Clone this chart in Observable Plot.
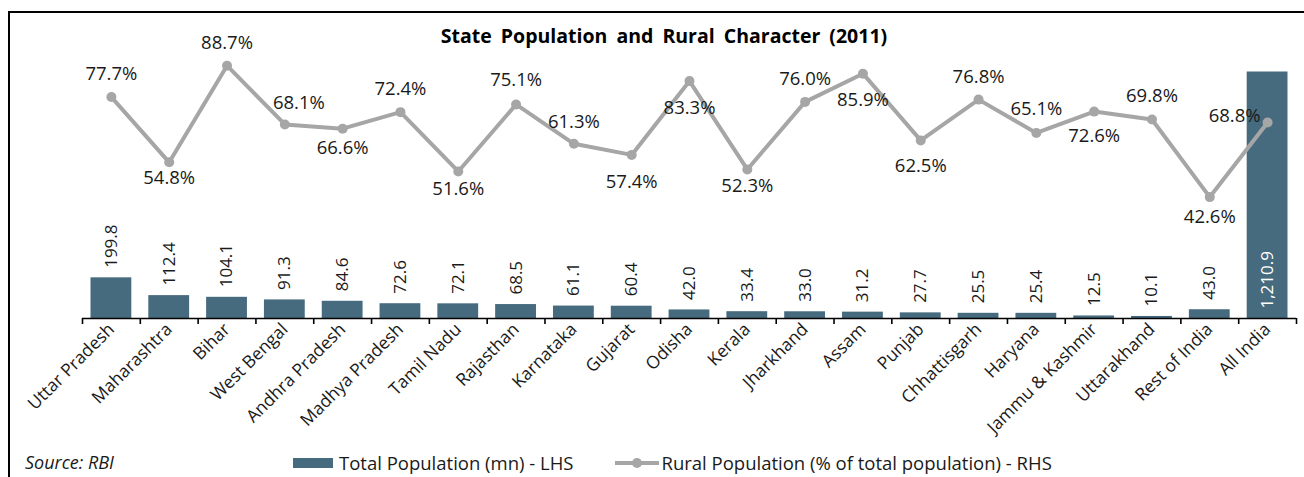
<!DOCTYPE html>
<html>
<head>
<meta charset="utf-8">
<script src="https://cdn.jsdelivr.net/npm/d3@7"></script>
<script src="https://cdn.jsdelivr.net/npm/@observablehq/plot@0.6"></script>
<style>
  body { margin: 0; background: #fff; font-family: "Open Sans", sans-serif; }
  #wrap { position: relative; width: 1304px; height: 477px; overflow: hidden; background: #fff; }
  #frame { position: absolute; left: 8px; top: 11px; width: 1400px; height: 600px;
           border-left: 2px solid #000; border-top: 2px solid #000; }
  #title { position: absolute; top: 22px; left: 0; width: 1328px; text-align: center;
           font-weight: bold; font-size: 19.5px; color: #000; word-spacing: 4px; }
  #chart { position: absolute; left: 0; top: 0; }
  #source { position: absolute; left: 25px; top: 450px; font-style: italic; font-size: 18px; color: #1a1a1a; }
  #legend { position: absolute; top: 450px; left: 293px; display: flex; align-items: center;
            font-size: 18.5px; color: #1a1a1a; white-space: nowrap; }
  .item { display: flex; align-items: center; }
  .swbar { width: 40px; height: 10px; background: #466a7e; margin-right: 6px; }
  .swline { margin-right: 2px; }
</style>
</head>
<body>
<div id="wrap">
  <div id="frame"></div>
  <div id="chart"></div>
  <div id="title"></div>
  <div id="source"></div>
  <div id="legend"></div>
</div>
<script>
const titleText = "State Population and Rural Character (2011)";
const sourceText = "Source: RBI";
const seriesNames = ["Total Population (mn) - LHS", "Rural Population (% of total population) - RHS"];

const categories = ["Uttar Pradesh","Maharashtra","Bihar","West Bengal","Andhra Pradesh","Madhya Pradesh",
  "Tamil Nadu","Rajasthan","Karnataka","Gujarat","Odisha","Kerala","Jharkhand","Assam","Punjab",
  "Chhattisgarh","Haryana","Jammu & Kashmir","Uttarakhand","Rest of India","All India"];
const population = [199.8,112.4,104.1,91.3,84.6,72.6,72.1,68.5,61.1,60.4,42.0,33.4,33.0,31.2,27.7,25.5,25.4,12.5,10.1,43.0,1210.9];
const rural = [77.7,54.8,88.7,68.1,66.6,72.4,51.6,75.1,61.3,57.4,83.3,52.3,76.0,85.9,62.5,76.8,65.1,72.6,69.8,42.6,68.8];

// axis domains (LHS population, RHS percent)
const popMax = 1400, pctMax = 100;

// layout / style
const barColor = "#466a7e", lineColor = "#a6a6a6", textColor = "#1a1a1a";
const W = 1304, H = 450, baseY = 318;
const k = popMax / pctMax;
// percent label offsets [dx, dy] (label placement)
const pctLabelOffsets = [[0,-23],[0,16],[0,-23],[14,-21],[0,19],[0,-23],[0,18],[0,-24],[0,-22],[0,27],
  [0,27],[0,17],[0,-23],[0,26],[0,26],[0,-23],[0,-24],[0,24],[0,-23],[0,20],[-7,-6]];

const rows = categories.map((c, i) => ({i, cat: c, pop: population[i], pct: rural[i]}));
const n = categories.length;
const edges = d3.range(n + 1).map(j => j - 0.5);
const last = rows[n - 1];
const fmtPop = d3.format(",.1f");

const pctMarks = rows.map((r, i) => Plot.text([r], {
  x: "i", y: d => d.pct * k, text: d => d.pct.toFixed(1) + "%",
  dx: pctLabelOffsets[i][0], dy: pctLabelOffsets[i][1],
  textAnchor: i === n - 1 ? "end" : "middle", fontSize: 18.5, fill: textColor
}));

const chart = Plot.plot({
  width: W, height: H,
  marginLeft: 82, marginRight: 8, marginTop: 33, marginBottom: H - baseY,
  x: {type: "linear", domain: [-0.5, n - 0.5], label: null},
  y: {domain: [0, popMax], axis: null},
  style: {fontFamily: "Open Sans", background: "transparent", overflow: "visible"},
  marks: [
    Plot.rectY(rows, {x1: d => d.i - 0.5, x2: d => d.i + 0.5, y1: 0, y2: "pop",
      fill: barColor, insetLeft: 8.5, insetRight: 8.5}),
    Plot.text(rows.slice(0, n - 1), {x: "i", y: "pop", text: d => fmtPop(d.pop), rotate: -90,
      textAnchor: "start", dy: -10, fontSize: 17, fill: textColor}),
    Plot.text([last], {x: "i", y: 0, text: d => fmtPop(d.pop), rotate: -90,
      textAnchor: "start", dy: -10, fontSize: 17, fill: "#fff"}),
    Plot.ruleY([0], {stroke: "#000", strokeWidth: 1.6}),
    Plot.axisX({ticks: edges, tickSize: 6, tickFormat: () => "", label: null, stroke: "#000", strokeWidth: 1.6}),
    Plot.axisX({ticks: d3.range(n), tickFormat: i => categories[i], tickSize: 0, tickPadding: 8, label: null,
      tickRotate: -45, fontSize: 17.5, fill: textColor}),
    Plot.line(rows, {x: "i", y: d => d.pct * k, stroke: lineColor, strokeWidth: 4}),
    Plot.dot(rows, {x: "i", y: d => d.pct * k, r: 5, fill: lineColor}),
    ...pctMarks
  ]
});
document.getElementById("chart").appendChild(chart);
document.getElementById("title").textContent = titleText;
document.getElementById("source").textContent = sourceText;

const legend = document.getElementById("legend");
const it1 = document.createElement("div"); it1.className = "item";
it1.innerHTML = `<span class="swbar"></span><span></span>`;
it1.lastChild.textContent = seriesNames[0];
const it2 = document.createElement("div"); it2.className = "item"; it2.style.marginLeft = "42px";
it2.innerHTML = `<svg class="swline" width="44" height="12"><line x1="0" y1="6" x2="44" y2="6" stroke="${lineColor}" stroke-width="4"/><circle cx="22" cy="6" r="5" fill="${lineColor}"/></svg><span></span>`;
it2.lastChild.textContent = seriesNames[1];
legend.appendChild(it1); legend.appendChild(it2);
</script>
</body>
</html>
